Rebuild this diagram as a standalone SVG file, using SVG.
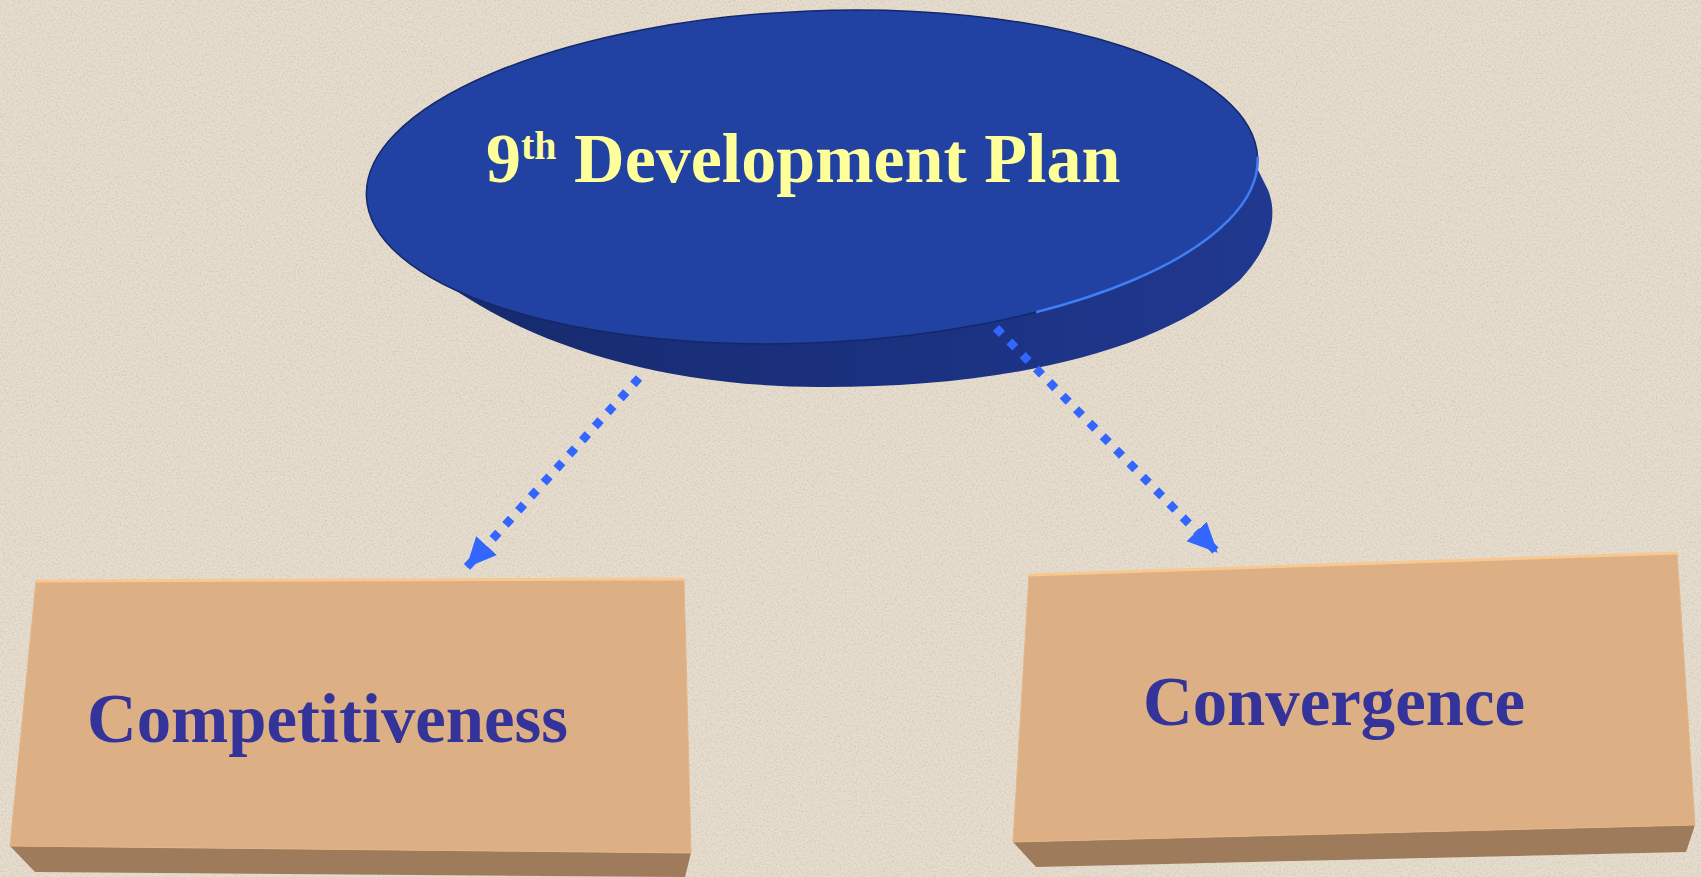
<svg xmlns="http://www.w3.org/2000/svg" width="1701" height="877" viewBox="0 0 1701 877">
<style>
.lbl{font-family:"Liberation Serif","Times New Roman",serif;font-weight:bold;font-size:70px}
.blue{fill:#333399}
.conn{fill:none;stroke:#3366FF;stroke-width:8.5;stroke-dasharray:8.5 10.5}
.front{fill:#DCB084;stroke:#E3B588;stroke-width:1}
.bottom{fill:#9E7B5A}
.topedge{fill:none;stroke:#F8C890;stroke-width:3}
</style>
<defs>
<filter id="paper" x="0" y="0" width="100%" height="100%">
<feTurbulence type="fractalNoise" baseFrequency="0.55" numOctaves="2" seed="7" result="n"/>
<feColorMatrix in="n" type="matrix" values="0 0 0 0 0.55  0 0 0 0 0.5  0 0 0 0 0.42  1.3 0 0 0 -0.55"/>
</filter>
<linearGradient id="side" x1="0" y1="0" x2="1" y2="0">
<stop offset="0" stop-color="#162A6C"/>
<stop offset="0.6" stop-color="#1B3282"/>
<stop offset="1" stop-color="#213890"/>
</linearGradient>
<clipPath id="rimclip">
<rect x="1030" y="176" width="250" height="230"/>
</clipPath>
<marker id="ah" markerUnits="userSpaceOnUse" markerWidth="30" markerHeight="30" viewBox="0 0 30 30" refX="29" refY="15" orient="auto">
<path d="M0,1 L30,15 L0,29 z" fill="#3366FF"/>
</marker>
</defs>
<rect width="1701" height="877" fill="#E6DDCE"/>
<rect width="1701" height="877" filter="url(#paper)"/>

<g id="plan">
<path d="M1248,150 L1268,190 C1278,215 1272,245 1240,280 C1150,360 980,388 818,387 C650,386 520,340 437,277 L600,200 Z" fill="url(#side)"/>
<ellipse cx="812" cy="177" rx="446" ry="166" transform="rotate(-2.5 812 177)" fill="#2142A3" stroke="#14286A" stroke-width="1.5"/>
<ellipse cx="812" cy="177" rx="446" ry="166" transform="rotate(-2.5 812 177)" fill="none" stroke="#3F7EF5" stroke-width="2.5" clip-path="url(#rimclip)"/>
<text class="lbl" x="486" y="182" fill="#FFFF99">9<tspan font-size="40" dy="-23">th</tspan><tspan dy="23"> Development Plan</tspan></text>
</g>

<g id="connectors">
<line class="conn" x1="639" y1="378" x2="467" y2="567" marker-end="url(#ah)"/>
<line class="conn" x1="996" y1="328" x2="1217" y2="552" marker-end="url(#ah)"/>
</g>

<g id="competitiveness">
<polygon class="bottom" points="10,846 691,853 685,877 35,872"/>
<polygon class="front" points="36,581 684,579 691,853 10,846"/>
<line class="topedge" x1="36" y1="581" x2="684" y2="579"/>
<text class="lbl blue" x="87" y="742" textLength="481" lengthAdjust="spacingAndGlyphs">Competitiveness</text>
</g>

<g id="convergence">
<polygon class="bottom" points="1013,842 1695,825 1686,852 1036,867"/>
<polygon class="front" points="1029,575 1677,553 1695,825 1013,842"/>
<line class="topedge" x1="1029" y1="575" x2="1677" y2="553"/>
<text class="lbl blue" x="1143" y="725" textLength="382" lengthAdjust="spacingAndGlyphs">Convergence</text>
</g>
</svg>
